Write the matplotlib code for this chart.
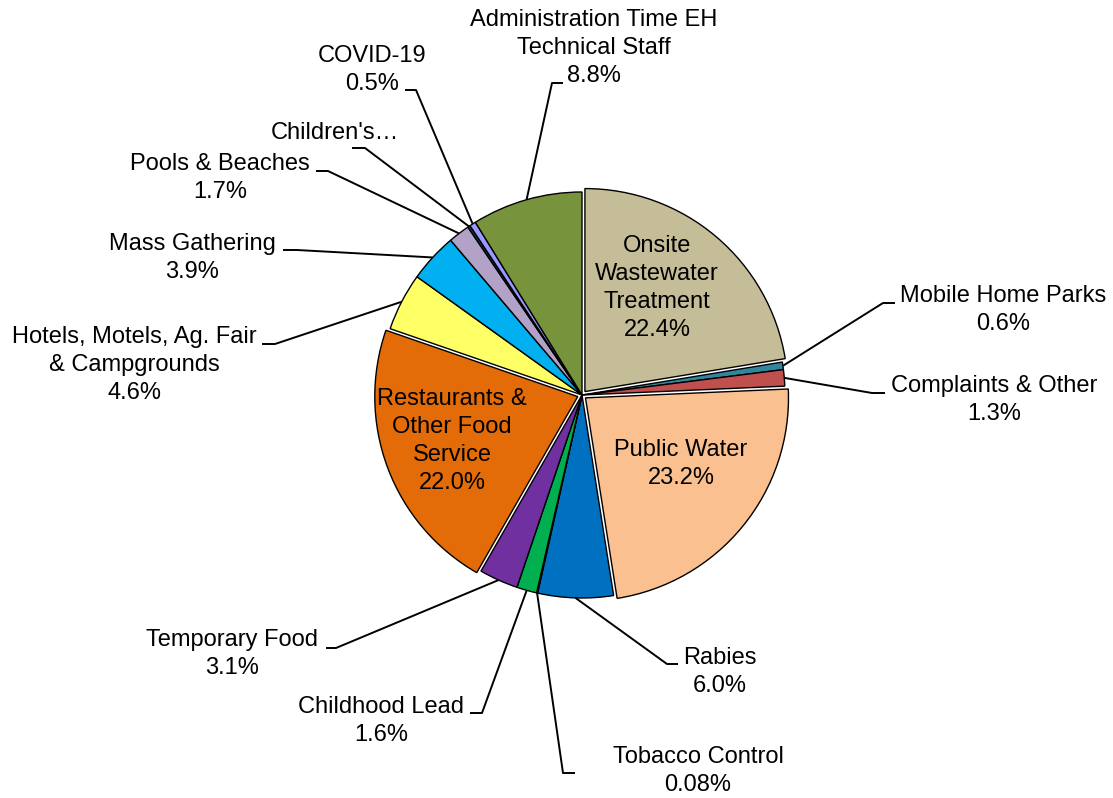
import numpy as np
import matplotlib
matplotlib.use("Agg")
from matplotlib import pyplot as plt

plt.rcParams["font.family"] = ["Liberation Sans", "DejaVu Sans"]

# data (clockwise from 12 o'clock)
labels = ["Onsite\nWastewater\nTreatment", "Mobile Home Parks", "Complaints & Other", "Public Water",
          "Rabies", "Tobacco Control", "Childhood Lead", "Temporary Food",
          "Restaurants &\nOther Food\nService", "Hotels, Motels, Ag. Fair\n& Campgrounds",
          "Mass Gathering", "Pools & Beaches", "Children's…", "COVID-19",
          "Administration Time EH\nTechnical Staff"]
pct = [22.4, 0.6, 1.3, 23.2, 6.0, 0.08, 1.6, 3.1, 22.0, 4.6, 3.9, 1.7, 0.2, 0.5, 8.8]
pct_txt = ["22.4%", "0.6%", "1.3%", "23.2%", "6.0%", "0.08%", "1.6%", "3.1%", "22.0%",
           "4.6%", "3.9%", "1.7%", None, "0.5%", "8.8%"]
colors = ["#c4bd97", "#31859c", "#c0504d", "#fac090", "#0070c0", "#1f3864", "#00b050", "#7030a0",
          "#e36c09", "#ffff66", "#00b0f0", "#b2a2c7", "#17375e", "#9999ff", "#77933c"]
exploded = {"Onsite\nWastewater\nTreatment", "Public Water", "Restaurants &\nOther Food\nService"}

W, H = 1113, 798
CX, CY, R = 582, H - 395, 203
EXP = 4.5

fig = plt.figure(figsize=(W / 100, H / 100), dpi=100)
ax = fig.add_axes([0, 0, 1, 1])
explode = [EXP if l in exploded else 0 for l in labels]
wedges, _ = ax.pie(pct, colors=colors, startangle=90, counterclock=False, center=(CX, CY), radius=R,
                   explode=explode, frame=True,
                   wedgeprops=dict(edgecolor="black", linewidth=1.0))
ax.set_xlim(0, W); ax.set_ylim(0, H); ax.axis("off")

FS = 17
LS = 1.36

def txt(x, y, s):
    ax.text(x, H - y, s, ha="center", va="center", fontsize=FS, linespacing=LS, multialignment="center")

# inside labels (reference pixel positions)
inside = {0: (657, 288), 3: (681, 464), 8: (452, 441)}
# outside: text centre, elbow, end of horizontal tick
outside = {
    1: ((1003, 310), (883, 303), (895, 303)),
    2: ((994, 400), (872, 393), (885, 393)),
    4: ((720, 672), (667, 664), (678, 664)),
    5: ((698, 771), (563, 773), (575, 773)),
    6: ((381, 721), (482, 713), (470, 713)),
    7: ((232, 654), (336, 648), (326, 648)),
    9: ((134, 365), (275, 344), (262, 344)),
    10: ((192, 258), (297, 250), (283, 250)),
    11: ((220, 178), (328, 171), (316, 171)),
    12: ((335, 133), (365, 148), (352, 148)),
    13: ((372, 70), (416, 90), (405, 90)),
    14: ((594, 48), (552, 83), (563, 83)),
}

for i, w in enumerate(wedges):
    s = labels[i] if pct_txt[i] is None else labels[i] + "\n" + pct_txt[i]
    if i in inside:
        txt(*inside[i], s)
        continue
    (tx, ty), (ex, ey), (hx, hy) = outside[i]
    txt(tx, ty, s)
    th = np.deg2rad((w.theta1 + w.theta2) / 2)
    px = w.center[0] + R * np.cos(th)
    py = w.center[1] + R * np.sin(th)
    ax.plot([px, ex, hx], [py, H - ey, H - hy], color="black", lw=1.4, solid_capstyle="butt")

fig.savefig("out.png", dpi=100)
